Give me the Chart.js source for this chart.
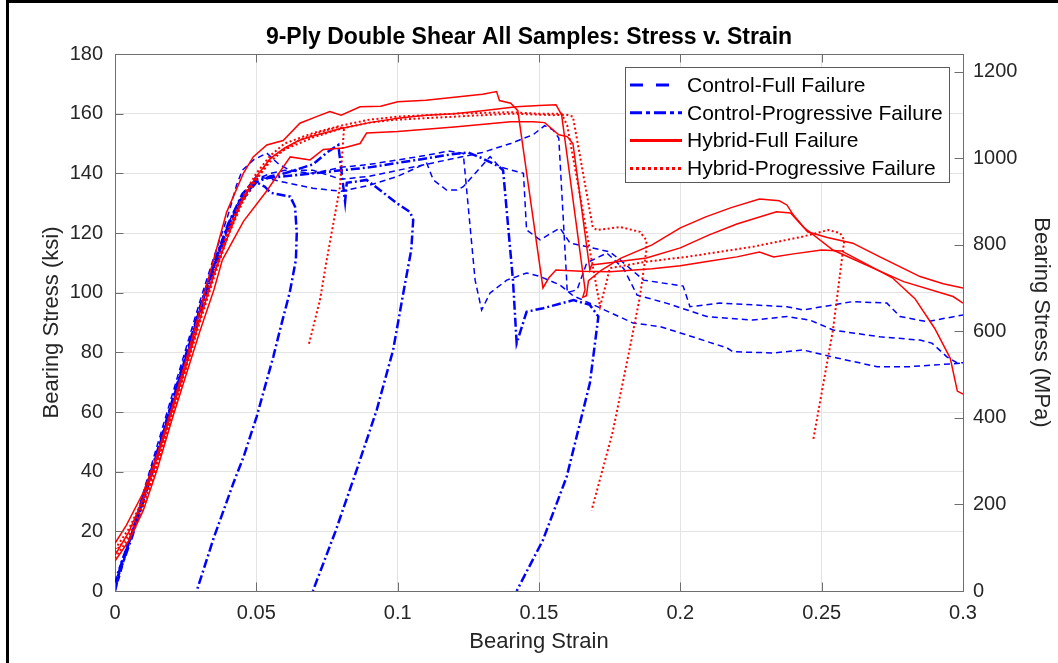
<!DOCTYPE html>
<html>
<head>
<meta charset="utf-8">
<script src="https://cdn.jsdelivr.net/npm/chart.js@4.4.1/dist/chart.umd.min.js"></script>
<style>
  html, body { margin: 0; padding: 0; background: #fff; }
  #wrap { position: relative; width: 1058px; height: 663px; }
  #frame { position: absolute; left: 6px; top: 0; right: 0; bottom: 0; border-left: 3px solid #000; border-top: 3px solid #000; pointer-events: none; }
</style>
</head>
<body>
<div id="wrap"><canvas id="chart"></canvas><div id="frame"></div></div>
<script>
// tick values
const xTicks = [0, 0.05, 0.1, 0.15, 0.2, 0.25, 0.3];
const ksiTicks = [0, 20, 40, 60, 80, 100, 120, 140, 160, 180];
const mpaTicks = [0, 200, 400, 600, 800, 1000, 1200];
const KSI_TO_MPA = 6.89476;

const legendLabels = ['Control-Full Failure', 'Control-Progressive Failure', 'Hybrid-Full Failure', 'Hybrid-Progressive Failure'];

// [strain, stress ksi]
const hybridFull1 = [[0,16],[0.004,22],[0.01,33],[0.015,46],[0.02,61],[0.025,77],[0.03,94],[0.034,108],[0.0395,127],[0.0454,140],[0.0489,145.5],[0.0537,149.5],[0.0595,151],[0.0654,156.8],[0.0713,159],[0.076,160.7],[0.08,159.5],[0.0867,162.3],[0.094,162.5],[0.1,164],[0.11,164.5],[0.12,165.5],[0.13,166.5],[0.135,167.4],[0.136,164.4],[0.14,163.5],[0.1425,161],[0.1514,101.6],[0.1535,105],[0.156,107.6],[0.165,107.2],[0.175,107],[0.19,108],[0.2,109],[0.21,110.5],[0.22,112],[0.228,113.6],[0.233,112],[0.24,113],[0.25,114.3],[0.257,114],[0.265,110],[0.275,105],[0.283,98],[0.29,88],[0.2955,78],[0.298,67],[0.3,66]];
const hybridFull2 = [[0,12],[0.005,20],[0.01,31],[0.015,45],[0.02,60],[0.025,75],[0.03,91],[0.035,106],[0.04,119],[0.045,131],[0.05,139],[0.055,145],[0.06,148.5],[0.065,151],[0.07,152.5],[0.08,155],[0.09,157],[0.1,158.5],[0.11,159.5],[0.12,160],[0.13,161],[0.142,162.3],[0.15,162.7],[0.156,163],[0.158,159.6],[0.1663,101],[0.1655,98.5],[0.1668,99],[0.1675,104],[0.172,107.5],[0.179,111.6],[0.19,116],[0.2,121.7],[0.209,125.4],[0.218,128.5],[0.228,131.4],[0.235,130.8],[0.2377,129.4],[0.24,126],[0.245,120.4],[0.252,118.5],[0.261,116.6],[0.2706,112],[0.2848,105.4],[0.293,103],[0.3,101.6]];
const hybridFull3 = [[0,10],[0.005,17],[0.01,27],[0.015,41],[0.02,57],[0.025,72],[0.03,87],[0.035,101],[0.038,111],[0.0455,124],[0.0536,134],[0.062,145.5],[0.069,144.5],[0.0737,148],[0.0808,148.5],[0.0867,150],[0.089,153.5],[0.1,154],[0.12,155.5],[0.14,157.3],[0.148,157.3],[0.152,157],[0.157,152.9],[0.16,152.3],[0.162,150],[0.168,107.6],[0.1686,109.3],[0.175,110],[0.188,111.6],[0.2,115],[0.21,119.3],[0.22,123],[0.234,127.1],[0.239,126.7],[0.2435,122],[0.254,114.3],[0.268,108.3],[0.279,103.7],[0.2965,98.7],[0.3,96.5]];
const hybridProg1 = [[0,13],[0.005,19],[0.01,29],[0.015,43],[0.02,59],[0.025,75],[0.03,91],[0.035,106],[0.04,120],[0.045,131],[0.05,138],[0.055,144],[0.06,148],[0.07,152],[0.08,155],[0.09,157],[0.1,158],[0.12,159],[0.14,160],[0.155,159.5],[0.16,159.6],[0.162,159],[0.169,122],[0.1705,121],[0.1787,122],[0.1857,120.4],[0.188,117.6],[0.188,114.3],[0.1857,98.6],[0.182,80.8],[0.176,53],[0.1686,27]];
const hybridProg2 = [[0,14],[0.005,21],[0.01,31],[0.015,44],[0.02,60],[0.025,76],[0.03,92],[0.035,107],[0.04,121],[0.045,132],[0.05,140],[0.055,146],[0.06,150],[0.07,153.5],[0.08,156],[0.09,158],[0.1,159],[0.12,160],[0.14,160.5],[0.15,160],[0.158,160],[0.16,156],[0.165,130],[0.1716,95.3],[0.174,104],[0.175,108.2],[0.188,110.4],[0.2023,112],[0.2257,115.4],[0.2434,118.8],[0.2523,121],[0.2565,120],[0.258,117.6],[0.254,87.5],[0.247,50.6]];
const hybridProg3 = [[0,11],[0.005,18],[0.01,28],[0.015,42],[0.02,58],[0.025,74],[0.03,90],[0.035,105],[0.04,119],[0.045,130],[0.05,138],[0.055,145],[0.06,148],[0.065,151],[0.07,153],[0.075,154.5],[0.079,155.5],[0.081,155],[0.0796,135.5],[0.0749,111],[0.0725,97.5],[0.0684,82]];

const controlProg1 = [[0,0],[0.001,4],[0.002,9],[0.004,14],[0.007,22],[0.01,31],[0.015,46],[0.02,62],[0.025,78],[0.03,94],[0.035,109],[0.04,122],[0.045,132],[0.05,137],[0.053,135.5],[0.055,133.5],[0.062,132.2],[0.0637,128.8],[0.0643,120],[0.064,111],[0.0618,100],[0.0585,88],[0.056,78.5],[0.0501,58.4],[0.0455,45],[0.0419,36.2],[0.035,18],[0.0289,0]];
const controlProg2 = [[0,1],[0.001,5],[0.003,10],[0.006,18],[0.01,30],[0.015,45],[0.02,61],[0.025,77],[0.03,93],[0.035,108],[0.04,121],[0.045,131],[0.05,137],[0.055,139],[0.06,140],[0.07,143],[0.075,147],[0.079,149.5],[0.0814,130.5],[0.082,136.8],[0.089,137.8],[0.0937,134.4],[0.0997,130],[0.1044,127],[0.1055,124.4],[0.1048,114.3],[0.102,99.9],[0.0984,80.8],[0.0926,60.7],[0.0855,40.6],[0.078,20],[0.07,0]];
const controlProg3 = [[0,2],[0.001,6],[0.003,11],[0.006,19],[0.01,32],[0.015,47],[0.02,63],[0.025,79],[0.03,95],[0.035,110],[0.04,123],[0.045,133],[0.05,138],[0.06,139],[0.07,140],[0.08,141],[0.09,142],[0.1,143.5],[0.11,145],[0.12,146.5],[0.125,147],[0.13,145],[0.136,142.2],[0.1373,141],[0.1408,104],[0.1421,83],[0.1456,93.6],[0.1515,94.8],[0.1622,97.5],[0.168,95.9],[0.171,92],[0.1704,87.5],[0.168,69.7],[0.1645,56.3],[0.1598,38.3],[0.1514,17.1],[0.1421,0]];

const controlFull1 = [[0,0],[0.002,6],[0.004,13],[0.007,23],[0.01,33],[0.015,49],[0.02,65],[0.025,81],[0.03,97],[0.035,112],[0.04,126],[0.043,136],[0.045,141],[0.049,144.5],[0.0537,146.8],[0.058,143],[0.062,141],[0.07,141],[0.08,138],[0.09,139],[0.1,141],[0.11,143],[0.12,145],[0.13,147],[0.14,150],[0.148,153],[0.152,156],[0.155,154.5],[0.157,151.8],[0.1598,104],[0.16,100],[0.1635,101],[0.1669,110],[0.174,113.3],[0.18,108],[0.1847,99.2],[0.195,96.5],[0.2094,92],[0.2257,90.8],[0.2377,92],[0.2459,90.8],[0.254,87.5],[0.261,86.5],[0.2706,85.2],[0.2848,84.1],[0.289,83.1],[0.2943,78.5],[0.298,76.4],[0.3,76.5]];
const controlFull2 = [[0,1],[0.002,7],[0.005,16],[0.01,31],[0.015,46],[0.02,62],[0.025,78],[0.03,94],[0.035,109],[0.04,122],[0.045,132],[0.05,138],[0.055,140],[0.06,141],[0.07,140],[0.08,142],[0.09,143],[0.1,144.5],[0.11,146],[0.118,147.5],[0.1232,146.7],[0.1274,104.2],[0.1297,94.2],[0.1327,99.9],[0.1386,104.2],[0.1456,106.6],[0.1504,105.4],[0.1574,102.6],[0.162,99],[0.1716,94.9],[0.1833,89.8],[0.193,88.6],[0.2023,85.8],[0.2165,81.5],[0.2186,80.2],[0.2328,79.8],[0.2434,80.8],[0.2554,78.1],[0.2696,75.2],[0.2812,75.2],[0.3,76.4]];
const controlFull3 = [[0,2],[0.002,8],[0.005,17],[0.01,32],[0.015,47],[0.02,63],[0.025,79],[0.03,95],[0.035,110],[0.04,123],[0.045,133],[0.05,139],[0.055,138],[0.06,137],[0.07,135],[0.08,134],[0.09,136],[0.1,139],[0.1103,143.4],[0.1126,137.8],[0.1173,134.4],[0.121,134.4],[0.1232,135.5],[0.1327,145.6],[0.136,142.2],[0.1445,140],[0.1456,121],[0.1504,117.7],[0.1574,121.7],[0.161,116.6],[0.167,115.4],[0.175,113.7],[0.1787,111],[0.187,104.2],[0.201,102.2],[0.2034,95.3],[0.214,96.5],[0.2257,95.9],[0.2377,95.3],[0.2434,94.2],[0.261,97],[0.2731,96.5],[0.2777,92],[0.2872,90.3],[0.3,92.5]];

const FONT = "'Liberation Sans', Arial, Helvetica, sans-serif";
const TEXT = '#262626';
const AXIS = '#6e6e6e';
const GRID = '#e3e3e3';

const styles = {
    controlFull: { color: '#0000ff', width: 1.5, dash: [6, 4] },
    controlProg: { color: '#0000ff', width: 2.5, dash: [9, 3, 2, 3] },
    hybridFull: { color: '#ff0000', width: 1.5, dash: [] },
    hybridProg: { color: '#ff0000', width: 2, dash: [2, 2.5] }
};

function series(points, style, order) {
    const s = styles[style];
    return {
        data: points.map(p => ({ x: p[0], y: p[1] })),
        showLine: true,
        borderColor: s.color,
        borderWidth: s.width,
        borderDash: s.dash,
        pointRadius: 0,
        fill: false,
        tension: 0,
        order: order
    };
}

const datasets = [
    series(hybridFull1, 'hybridFull', 0),
    series(hybridFull2, 'hybridFull', 0),
    series(hybridFull3, 'hybridFull', 0),
    series(hybridProg1, 'hybridProg', 0),
    series(hybridProg2, 'hybridProg', 0),
    series(hybridProg3, 'hybridProg', 0),
    series(controlFull1, 'controlFull', 1),
    series(controlFull2, 'controlFull', 1),
    series(controlFull3, 'controlFull', 1),
    series(controlProg1, 'controlProg', 1),
    series(controlProg2, 'controlProg', 1),
    series(controlProg3, 'controlProg', 1)
];

// inward ticks, box top line and the legend box
const axisExtras = {
    id: 'axisExtras',
    afterDraw(chart) {
        const { ctx, chartArea: a, scales } = chart;
        const tl = 8.5;
        ctx.save();
        ctx.strokeStyle = AXIS;
        ctx.lineWidth = 1;
        ctx.setLineDash([]);
        ctx.beginPath();
        ctx.moveTo(a.left, a.top + 0.5);
        ctx.lineTo(a.right, a.top + 0.5);
        xTicks.forEach(v => {
            const x = Math.round(scales.x.getPixelForValue(v)) + 0.5;
            ctx.moveTo(x, a.bottom); ctx.lineTo(x, a.bottom - tl);
            ctx.moveTo(x, a.top); ctx.lineTo(x, a.top + tl);
        });
        ksiTicks.forEach(v => {
            const y = Math.round(scales.y.getPixelForValue(v)) + 0.5;
            ctx.moveTo(a.left, y); ctx.lineTo(a.left + tl, y);
        });
        mpaTicks.forEach(v => {
            const y = Math.round(scales.y2.getPixelForValue(v)) + 0.5;
            ctx.moveTo(a.right, y); ctx.lineTo(a.right - tl, y);
        });
        ctx.stroke();

        // legend
        const bx = a.right - 338, by = a.top + 13, bw = 324, bh = 115;
        ctx.fillStyle = '#fff';
        ctx.fillRect(bx, by, bw, bh);
        ctx.strokeStyle = '#5a5a5a';
        ctx.strokeRect(bx + 0.5, by + 0.5, bw, bh);
        const keys = ['controlFull', 'controlProg', 'hybridFull', 'hybridProg'];
        const legendDash = { controlFull: [13, 13], controlProg: [12, 4, 4, 4], hybridFull: [], hybridProg: [3, 3] };
        ctx.font = '21px ' + FONT;
        ctx.textBaseline = 'middle';
        ctx.textAlign = 'left';
        keys.forEach((k, i) => {
            const y = by + 18 + i * 27.8;
            ctx.strokeStyle = styles[k].color;
            ctx.lineWidth = 3;
            ctx.setLineDash(legendDash[k]);
            ctx.beginPath();
            ctx.moveTo(bx + 5, y);
            ctx.lineTo(bx + 57, y);
            ctx.stroke();
            ctx.fillStyle = '#000';
            ctx.fillText(legendLabels[i], bx + 62, y + 1);
        });
        ctx.restore();
    }
};

new Chart(document.getElementById('chart'), {
    type: 'scatter',
    data: { datasets: datasets },
    options: {
        responsive: true,
        maintainAspectRatio: false,
        animation: false,
        layout: { padding: 0 },
        plugins: {
            legend: { display: false },
            tooltip: { enabled: false },
            title: {
                display: true,
                text: '9-Ply Double Shear All Samples: Stress v. Strain',
                color: '#000',
                font: { family: FONT, size: 23, weight: 'bold', lineHeight: 1.2 },
                padding: { top: 24, bottom: 2.4 }
            }
        },
        scales: {
            x: {
                type: 'linear',
                min: 0,
                max: 0.3,
                afterBuildTicks: s => { s.ticks = xTicks.map(v => ({ value: v })); },
                afterFit: s => { s.height = 72; },
                ticks: {
                    color: TEXT, padding: 10, maxRotation: 0,
                    font: { family: FONT, size: 20 },
                    callback: v => String(+v.toFixed(2))
                },
                grid: { color: GRID, drawTicks: false },
                border: { color: AXIS },
                title: {
                    display: true, text: 'Bearing Strain', color: TEXT,
                    font: { family: FONT, size: 22 }, padding: { top: 0, bottom: 8 }
                }
            },
            y: {
                position: 'left',
                min: 0,
                max: 180,
                afterBuildTicks: s => { s.ticks = ksiTicks.map(v => ({ value: v })); },
                afterFit: s => { s.width = 115; },
                ticks: { color: TEXT, padding: 12, font: { family: FONT, size: 20 } },
                grid: { color: GRID, drawTicks: false },
                border: { color: AXIS },
                title: {
                    display: true, text: 'Bearing Stress (ksi)', color: TEXT,
                    font: { family: FONT, size: 22 }, padding: { top: 39, bottom: 0 }
                }
            },
            y2: {
                position: 'right',
                min: 0,
                max: 180 * KSI_TO_MPA,
                afterBuildTicks: s => { s.ticks = mpaTicks.map(v => ({ value: v })); },
                afterFit: s => { s.width = 95; },
                ticks: { color: TEXT, padding: 10, font: { family: FONT, size: 20 }, callback: v => String(v) },
                grid: { display: false, drawTicks: false },
                border: { color: AXIS },
                title: {
                    display: true, text: 'Bearing Stress (MPa)', color: TEXT,
                    font: { family: FONT, size: 22 }, padding: { top: 4, bottom: 0 }
                }
            }
        }
    },
    plugins: [axisExtras]
});
</script>
</body>
</html>
